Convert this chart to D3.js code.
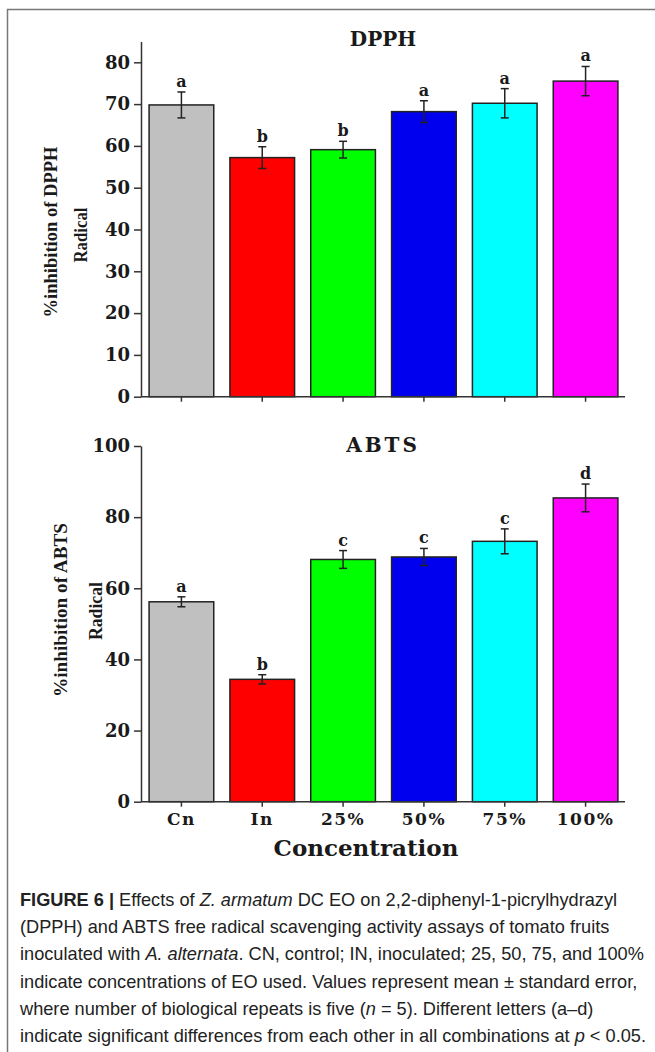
<!DOCTYPE html>
<html>
<head>
<meta charset="utf-8">
<script src="https://cdn.jsdelivr.net/npm/d3@7"></script>
<style>
  body { margin: 0; background: #fff; }
  svg { display: block; }
</style>
</head>
<body>
<svg id="fig" width="655" height="1052"></svg>
<script>
// Treatment groups and their bar colours
const categories = ["Cn", "In", "25%", "50%", "75%", "100%"];
const barColors = ["#c0c0c0", "#ff0000", "#00ff00", "#0000ee", "#00ffff", "#ff00ff"];

// DPPH radical inhibition (%), mean and standard error
const dpphMean = [69.8, 57.2, 59.1, 68.2, 70.2, 75.5];
const dpphErr = [3.1, 2.6, 2.0, 2.6, 3.5, 3.5];
const dpphLetters = ["a", "b", "b", "a", "a", "a"];
const dpphTicks = [0, 10, 20, 30, 40, 50, 60, 70, 80];

// ABTS radical inhibition (%), mean and standard error
const abtsMean = [56.2, 34.4, 68.1, 68.8, 73.2, 85.4];
const abtsErr = [1.4, 1.3, 2.5, 2.4, 3.5, 3.9];
const abtsLetters = ["a", "b", "c", "c", "c", "d"];
const abtsTicks = [0, 20, 40, 60, 80, 100];

// Figure caption, split into styled runs per line
const captionLines = [
  [["FIGURE 6 |", "b"], [" Effects of ", ""], ["Z. armatum", "i"], [" DC EO on 2,2-diphenyl-1-picrylhydrazyl", ""]],
  [["(DPPH) and ABTS free radical scavenging activity assays of tomato fruits", ""]],
  [["inoculated with ", ""], ["A. alternata", "i"], [". CN, control; IN, inoculated; 25, 50, 75, and 100%", ""]],
  [["indicate concentrations of EO used. Values represent mean \u00b1 standard error,", ""]],
  [["where number of biological repeats is five (", ""], ["n", "i"], [" = 5). Different letters (a\u2013d)", ""]],
  [["indicate significant differences from each other in all combinations at ", ""], ["p", "i"], [" < 0.05.", ""]]
];

const svg = d3.select("#fig");
const serif = "'DejaVu Serif', serif";
const ink = "#1a1a1a";

// Figure frame (top and left rules)
svg.append("path")
  .attr("d", "M7.5,1052V9.5H655")
  .attr("fill", "none").attr("stroke", "#777").attr("stroke-width", 1.5);

const x = d3.scaleBand().domain(categories).range([141, 626])
  .paddingInner(0.2).paddingOuter(0.1);

function panel(cfg) {
  const g = svg.append("g");
  const y = d3.scaleLinear().domain(cfg.domain).range(cfg.range);
  const rows = categories.map((c, i) => ({ c, m: cfg.mean[i], e: cfg.err[i], l: cfg.letters[i], col: barColors[i] }));

  // bars
  g.selectAll("rect.bar").data(rows).join("rect")
    .attr("class", "bar")
    .attr("x", d => x(d.c)).attr("width", x.bandwidth())
    .attr("y", d => y(d.m)).attr("height", d => y(0) - y(d.m))
    .attr("fill", d => d.col).attr("stroke", "#222").attr("stroke-width", 1.5);

  // error bars
  const eb = g.selectAll("g.err").data(rows).join("g").attr("class", "err")
    .attr("stroke", "#222").attr("stroke-width", 1.5);
  const cx = d => x(d.c) + x.bandwidth() / 2;
  eb.append("line").attr("x1", cx).attr("x2", cx)
    .attr("y1", d => y(d.m + d.e)).attr("y2", d => y(d.m - d.e));
  eb.append("line").attr("x1", d => cx(d) - 4).attr("x2", d => cx(d) + 4)
    .attr("y1", d => y(d.m + d.e)).attr("y2", d => y(d.m + d.e));
  eb.append("line").attr("x1", d => cx(d) - 4).attr("x2", d => cx(d) + 4)
    .attr("y1", d => y(d.m - d.e)).attr("y2", d => y(d.m - d.e));

  // significance letters
  g.selectAll("text.sig").data(rows).join("text")
    .attr("class", "sig")
    .attr("x", cx).attr("y", d => y(d.m + d.e) - 5)
    .attr("text-anchor", "middle")
    .attr("font-family", serif).attr("font-weight", "bold").attr("font-size", 16)
    .attr("fill", ink).text(d => d.l);

  // y axis
  const ya = g.append("g").attr("transform", "translate(141,0)")
    .call(d3.axisLeft(y).tickValues(cfg.ticks).tickSize(7).tickPadding(4).tickSizeOuter(0));
  ya.select(".domain").attr("stroke", "#333").attr("stroke-width", 1.5);
  ya.selectAll(".tick line").attr("stroke", "#333").attr("stroke-width", 1.5);
  ya.selectAll(".tick text").attr("font-family", serif).attr("font-weight", "bold")
    .attr("font-size", 18).attr("fill", ink);

  // x axis
  const xa = g.append("g").attr("transform", `translate(0,${y(0)})`)
    .call(d3.axisBottom(x).tickSize(5).tickPadding(6).tickSizeOuter(0));
  xa.select(".domain").attr("stroke", "#333").attr("stroke-width", 1.5)
    .attr("d", "M141,0H625");
  xa.selectAll(".tick line").attr("stroke", "#333").attr("stroke-width", 1.5);
  xa.selectAll(".tick text").attr("font-family", serif).attr("font-weight", "bold")
    .attr("font-size", 17).attr("letter-spacing", 1.5).attr("fill", ink)
    .style("display", cfg.showX ? null : "none");

  // title
  g.append("text").attr("x", 383).attr("y", cfg.titleY)
    .attr("text-anchor", "middle").attr("font-family", serif).attr("font-weight", "bold")
    .attr("font-size", 20).attr("letter-spacing", cfg.titleSpacing).attr("fill", ink)
    .text(cfg.title);

  // rotated y-axis label, two lines
  cfg.yLabel.forEach(lab => {
    g.append("text")
      .attr("transform", `translate(${lab.x},${lab.y}) rotate(-90)`)
      .attr("text-anchor", "middle")
      .attr("font-family", "'Liberation Serif', serif").attr("font-weight", "bold")
      .attr("font-size", 18).attr("fill", ink)
      .attr("textLength", lab.len).attr("lengthAdjust", "spacingAndGlyphs")
      .text(lab.t);
  });
}

panel({
  title: "DPPH", titleY: 46, titleSpacing: 0,
  domain: [0, 85], range: [396.7, 41.4],
  mean: dpphMean, err: dpphErr, letters: dpphLetters, ticks: dpphTicks,
  showX: false,
  yLabel: [{ t: "%inhibition of DPPH", x: 57, y: 232, len: 171 },
           { t: "Radical", x: 87, y: 235, len: 55 }]
});

panel({
  title: "ABTS", titleY: 452, titleSpacing: 3,
  domain: [0, 100], range: [801.7, 446],
  mean: abtsMean, err: abtsErr, letters: abtsLetters, ticks: abtsTicks,
  showX: true,
  yLabel: [{ t: "%inhibition of ABTS", x: 67, y: 610, len: 174 },
           { t: "Radical", x: 102, y: 611, len: 58 }]
});

// x-axis title
svg.append("text").attr("x", 366).attr("y", 856)
  .attr("text-anchor", "middle").attr("font-family", serif).attr("font-weight", "bold")
  .attr("font-size", 23).attr("fill", ink).text("Concentration");

// caption
const cap = svg.append("g").attr("font-family", "'Liberation Sans', Arial, sans-serif")
  .attr("font-size", 18.2).attr("fill", "#222");
captionLines.forEach((runs, i) => {
  const t = cap.append("text").attr("x", 20).attr("y", 906 + i * 27.2);
  runs.forEach(([s, st]) => {
    const sp = t.append("tspan").text(s);
    if (st === "b") sp.attr("font-weight", "bold");
    if (st === "i") sp.attr("font-style", "italic");
  });
});
</script>
</body>
</html>
